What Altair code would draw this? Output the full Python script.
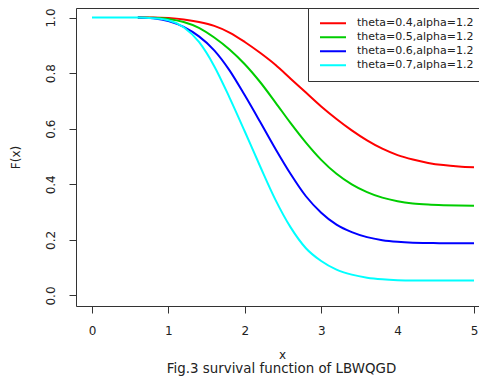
import altair as alt
import pandas as pd

# ---- data ----
x_main = [0.6, 0.8, 1.0, 1.2, 1.4, 1.6, 1.8, 2.0, 2.2, 2.4, 2.6, 2.8,
          3.0, 3.2, 3.4, 3.6, 3.8, 4.0, 4.2, 4.4, 4.6, 4.8, 5.0]
x_cyan = [0.0, 0.2, 0.4] + x_main

red = [1.0, 1.0, 0.998, 0.993, 0.984, 0.97, 0.946, 0.912, 0.873, 0.83, 0.78, 0.73,
       0.68, 0.635, 0.594, 0.558, 0.528, 0.505, 0.489, 0.477, 0.469, 0.464, 0.461]
green = [1.0, 0.999, 0.995, 0.984, 0.963, 0.928, 0.885, 0.832, 0.768, 0.695, 0.62, 0.55,
         0.488, 0.438, 0.400, 0.372, 0.352, 0.339, 0.331, 0.327, 0.325, 0.324, 0.323]
blue = [1.0, 0.997, 0.987, 0.966, 0.932, 0.882, 0.81, 0.72, 0.625, 0.528, 0.437, 0.357,
        0.298, 0.255, 0.228, 0.210, 0.199, 0.193, 0.190, 0.189, 0.188, 0.188, 0.188]
cyan = [1.0, 1.0, 1.0,
        1.0, 0.997, 0.99, 0.965, 0.912, 0.825, 0.712, 0.59, 0.465, 0.345, 0.245, 0.17,
        0.124, 0.093, 0.075, 0.064, 0.058, 0.055, 0.054, 0.054, 0.054, 0.054, 0.054]

labels = ["theta=0.4,alpha=1.2", "theta=0.5,alpha=1.2",
          "theta=0.6,alpha=1.2", "theta=0.7,alpha=1.2"]
colors = ["#FF0000", "#00CD00", "#0000FF", "#00FFFF"]

x_ticks = [0, 1, 2, 3, 4, 5]
y_ticks = [0.0, 0.2, 0.4, 0.6, 0.8, 1.0]

rows = []
for lab, xs, ys in zip(labels, [x_main, x_main, x_main, x_cyan], [red, green, blue, cyan]):
    for xv, yv in zip(xs, ys):
        rows.append({"x": xv, "F": yv, "series": lab})
df = pd.DataFrame(rows)

FONT = "DejaVu Sans"
INK = "#222222"
FRAME = "#333333"

W, H = 403, 298

x_scale = alt.Scale(domain=[-0.2094, 5.0654], nice=False, zero=False)
y_scale = alt.Scale(domain=[-0.0378, 1.0342], nice=False, zero=False)

bottom_axis = alt.Axis(
    orient="bottom", values=x_ticks, format="d", grid=False,
    domain=True, domainColor=FRAME, domainWidth=1,
    ticks=True, tickSize=7, tickColor=FRAME, tickWidth=1,
    labelFont=FONT, labelFontSize=12, labelColor=INK, labelPadding=12.5,
    labelBaseline="top", labelFlush=False, labelOverlap=False,
    title="x", titleFont=FONT, titleFontSize=12, titleFontWeight="normal",
    titleColor=INK, titleX=206, titleY=52, titleBaseline="alphabetic",
    titleAlign="center",
)
top_axis = alt.Axis(
    orient="top", grid=False, ticks=False, labels=False,
    domain=True, domainColor=FRAME, domainWidth=1, title="",
)
left_axis = alt.Axis(
    orient="left", values=y_ticks, format=".1f", grid=False,
    domain=True, domainColor=FRAME, domainWidth=1,
    ticks=True, tickSize=7, tickColor=FRAME, tickWidth=1,
    labelFont=FONT, labelFontSize=12, labelColor=INK, labelPadding=14.5,
    labelAngle=270, labelAlign="center", labelBaseline="alphabetic",
    labelFlush=False, labelOverlap=False,
    title="F(x)", titleFont=FONT, titleFontSize=12, titleFontWeight="normal",
    titleColor=INK, titleX=-61, titleY=149, titleAngle=270,
    titleAlign="center", titleBaseline="middle",
)

legend = alt.Legend(
    orient="none", legendX=232, legendY=0, title=None,
    symbolType="stroke", symbolSize=676, symbolStrokeWidth=2,
    symbolOffset=2.5, labelOffset=10,
    labelFont=FONT, labelFontSize=11, labelColor=INK,
    padding=8.5, rowPadding=0, clipHeight=13.3,
    strokeColor=FRAME, fillColor="white",
)

lines = alt.Chart(df).mark_line(strokeWidth=2, interpolate="monotone").encode(
    x=alt.X("x:Q", scale=x_scale, axis=bottom_axis),
    y=alt.Y("F:Q", scale=y_scale, axis=left_axis),
    color=alt.Color("series:N", scale=alt.Scale(domain=labels, range=colors),
                    legend=legend),
)

frame_top = alt.Chart(df).mark_point(opacity=0).encode(
    x=alt.X("x:Q", scale=x_scale, axis=top_axis),
    y=alt.Y("F:Q", scale=y_scale, axis=left_axis),
)

chart = alt.layer(lines, frame_top).resolve_axis(x="independent").properties(
    width=W, height=H,
    padding={"left": 68, "top": 0, "right": 0, "bottom": 70},
    autosize=alt.AutoSizeParams(type="none"),
    title=alt.TitleParams(
        text="Fig.3 survival function of LBWQGD", orient="bottom", frame="group",
        anchor="middle", offset=12.5, dx=4, baseline="alphabetic",
        font=FONT, fontSize=13.4, fontWeight="normal", color=INK,
    ),
).configure_view(stroke=None).configure(background="white")

chart.save("out.html", embed_options={"renderer": "svg", "actions": False})
